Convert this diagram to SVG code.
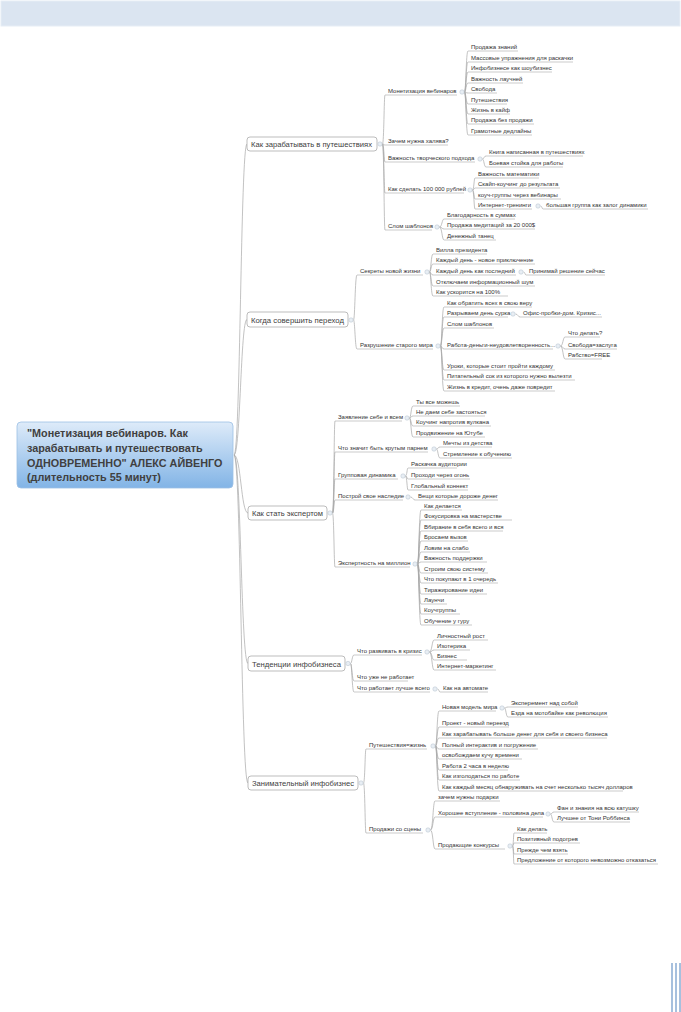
<svg xmlns="http://www.w3.org/2000/svg" width="681" height="1012" viewBox="0 0 681 1012">
<style>
.c{fill:none;stroke:#a8a8a8;stroke-width:0.7}
.ul{fill:none;stroke:#a8a8a8;stroke-width:0.6}
.t{font-family:"Liberation Sans",Arial,sans-serif;font-size:6px;fill:#333}
.b{font-family:"Liberation Sans",Arial,sans-serif;font-size:7.6px;fill:#404040}
.box{fill:#fff;stroke:#a0a0a0;stroke-width:0.7}
.o{fill:#e8eef4;stroke:#b4c0cc;stroke-width:0.5}
.r{font-family:"Liberation Sans",Arial,sans-serif;font-size:10.8px;font-weight:bold;fill:#404040}
</style>
<defs>
<linearGradient id="rg" x1="0" y1="0" x2="0" y2="1">
<stop offset="0" stop-color="#deebf9"/>
<stop offset="1" stop-color="#82b4e6"/>
</linearGradient>
</defs>
<rect x="1" y="1" width="679" height="25" fill="#dbe5f1" stroke="#e6edf5" stroke-width="1"/>
<g id="deco" stroke="#4f81bd" stroke-width="1">
<line x1="672" y1="963" x2="672" y2="1012"/>
<line x1="676" y1="963" x2="676" y2="1012"/>
<line x1="680" y1="963" x2="680" y2="1012"/>
</g>
<g id="connectors" class="c">
<path d="M234 455C240.5 455 240.5 144 247 144M234 455C240.5 455 240.5 319.5 247 319.5M234 455C241 455 241 513 248 513M234 455C241 455 241 663.5 248 663.5M234 455C241 455 241 783 248 783"/>
<path d="M382.5 144C384 144 384 95 385 95M382.5 144C384 144 384 145 385 145M382.5 144C384 144 384 162 385 162M382.5 144C384 144 384 193 385 193M382.5 144C384 144 384 230 385 230"/>
<path d="M464.5 92C466 92 466 51 468 51M464.5 92C466 92 466 62 468 62M464.5 92C466 92 466 72 468 72M464.5 92C466 92 466 83 468 83M464.5 92C466 92 466 93 468 93M464.5 92C466 92 466 104 468 104M464.5 92C466 92 466 114 468 114M464.5 92C466 92 466 124 468 124M464.5 92C466 92 466 135 468 135"/>
<path d="M482.5 159C484 159 484 156 486 156M482.5 159C484 159 484 167 486 167"/>
<path d="M472.5 190C474 190 474 178 475 178M472.5 190C474 190 474 188 475 188M472.5 190C474 190 474 199 475 199M472.5 190C474 190 474 209 475 209M540.5 206C542 206 542 209 543 209"/>
<path d="M439.5 227C442 227 442 219 444 219M439.5 227C442 227 442 229 444 229M439.5 227C442 227 442 240 444 240"/>
<path d="M353.5 320C355 320 355 275 357 275M353.5 320C355 320 355 349 357 349"/>
<path d="M429.5 272C431 272 431 254 433 254M429.5 272C431 272 431 264 433 264M429.5 272C431 272 431 275 433 275M429.5 272C431 272 431 286 433 286M429.5 272C431 272 431 296 433 296M523.5 272C525 272 525 275 526 275"/>
<path d="M440.5 346C442 346 442 307 444 307M440.5 346C442 346 442 317 444 317M440.5 346C442 346 442 328 444 328M440.5 346C442 346 442 349 444 349M440.5 346C442 346 442 370 444 370M440.5 346C442 346 442 380 444 380M440.5 346C442 346 442 391 444 391M515.5 314C518 314 518 317 520 317M560.5 346C563 346 563 337 565 337M560.5 346C563 346 563 349 565 349M560.5 346C563 346 563 359 565 359"/>
<path d="M332.5 513C334 513 334 421 335 421M332.5 513C334 513 334 452 335 452M332.5 513C334 513 334 479 335 479M332.5 513C334 513 334 500 335 500M332.5 513C334 513 334 567 335 567"/>
<path d="M409.5 418C411 418 411 406 413 406M409.5 418C411 418 411 416 413 416M409.5 418C411 418 411 426 413 426M409.5 418C411 418 411 437 413 437M436.5 449C438 449 438 447 440 447M436.5 449C438 449 438 458 440 458M405.5 476C407 476 407 468 408 468M405.5 476C407 476 407 479 408 479M405.5 476C407 476 407 490 408 490M410.5 497C413 497 413 500 415 500"/>
<path d="M417.5 564C419 564 419 510 421 510M417.5 564C419 564 419 520 421 520M417.5 564C419 564 419 531 421 531M417.5 564C419 564 419 541 421 541M417.5 564C419 564 419 552 421 552M417.5 564C419 564 419 562 421 562M417.5 564C419 564 419 573 421 573M417.5 564C419 564 419 583 421 583M417.5 564C419 564 419 594 421 594M417.5 564C419 564 419 604 421 604M417.5 564C419 564 419 614 421 614M417.5 564C419 564 419 625 421 625"/>
<path d="M350.5 663.5C352 663.5 352 655 354 655M350.5 663.5C352 663.5 352 681 354 681M350.5 663.5C352 663.5 352 692 354 692M429.5 652C432 652 432 640 434 640M429.5 652C432 652 432 650 434 650M429.5 652C432 652 432 660 434 660M429.5 652C432 652 432 670 434 670M437.5 689C439 689 439 692 440 692"/>
<path d="M363.5 783C365 783 365 749 366 749M363.5 783C365 783 365 833 366 833"/>
<path d="M435.5 746C437 746 437 711 439 711M435.5 746C437 746 437 727 439 727M435.5 746C437 746 437 738 439 738M435.5 746C437 746 437 749 439 749M435.5 746C437 746 437 759 439 759M435.5 746C437 746 437 770 439 770M435.5 746C437 746 437 780 439 780M435.5 746C437 746 437 791 439 791M504.5 708C506 708 506 707 508 707M504.5 708C506 708 506 717 508 717"/>
<path d="M430.5 830C433 830 433 801 435 801M430.5 830C433 830 433 817 435 817M430.5 830C433 830 433 849 435 849M550.5 814C552 814 552 812 554 812M550.5 814C552 814 552 822 554 822M512.5 846C513.5 846 513.5 833 514 833M512.5 846C513.5 846 513.5 843 514 843M512.5 846C513.5 846 513.5 854 514 854M512.5 846C513.5 846 513.5 864 514 864"/>
</g>
<g id="root">
<rect x="17" y="422" width="216" height="66" rx="4" fill="url(#rg)" stroke="#9dc0e4" stroke-width="0.8"/>
<text class="r" x="27" y="437">"Монетизация вебинаров. Как</text>
<text class="r" x="27" y="452">зарабатывать и путешествовать</text>
<text class="r" x="27" y="467">ОДНОВРЕМЕННО" АЛЕКС АЙВЕНГО</text>
<text class="r" x="27" y="481">(длительность 55 минут)</text>
</g>
<g id="b1"><rect class="box" x="247" y="137" width="130" height="14" rx="3"/><text class="b" x="251" y="147" textLength="121" lengthAdjust="spacingAndGlyphs">Как зарабатывать в путешествиях</text><circle class="o" cx="380" cy="144" r="2.2"/></g>
<g id="b2"><rect class="box" x="247" y="312" width="101" height="15" rx="3"/><text class="b" x="251" y="322.5" textLength="93" lengthAdjust="spacingAndGlyphs">Когда совершить переход</text><circle class="o" cx="351" cy="320" r="2.2"/></g>
<g id="b3"><rect class="box" x="248" y="506" width="79" height="14" rx="3"/><text class="b" x="252" y="516" textLength="71" lengthAdjust="spacingAndGlyphs">Как стать экспертом</text><circle class="o" cx="330" cy="513" r="2.2"/></g>
<g id="b4"><rect class="box" x="248" y="656" width="97" height="15" rx="3"/><text class="b" x="252" y="666.5" textLength="89" lengthAdjust="spacingAndGlyphs">Тенденции инфобизнеса</text><circle class="o" cx="348" cy="663.5" r="2.2"/></g>
<g id="b5"><rect class="box" x="248" y="776" width="110" height="14" rx="3"/><text class="b" x="252" y="786" textLength="102" lengthAdjust="spacingAndGlyphs">Занимательный инфобизнес</text><circle class="o" cx="361" cy="783" r="2.2"/></g>
<g id="m1"><text class="t" x="388" y="93">Монетизация вебинаров</text><path class="ul" d="M385 95H457"/><circle class="o" cx="462" cy="92" r="2.2"/></g>
<g id="m1a"><text class="t" x="471" y="49">Продажа знаний</text><path class="ul" d="M468 51H518"/></g>
<g id="m1b"><text class="t" x="471" y="60">Массовые упражнения для раскачки</text><path class="ul" d="M468 62H573"/></g>
<g id="m1c"><text class="t" x="471" y="70">Инфобизнесе как шоубизнес</text><path class="ul" d="M468 72H552"/></g>
<g id="m1d"><text class="t" x="471" y="81">Важность лаучней</text><path class="ul" d="M468 83H523"/></g>
<g id="m1e"><text class="t" x="471" y="91">Свобода</text><path class="ul" d="M468 93H497"/></g>
<g id="m1f"><text class="t" x="471" y="102">Путешествия</text><path class="ul" d="M468 104H507"/></g>
<g id="m1g"><text class="t" x="471" y="112">Жизнь в кайф</text><path class="ul" d="M468 114H510"/></g>
<g id="m1h"><text class="t" x="471" y="122">Продажа без продажи</text><path class="ul" d="M468 124H534"/></g>
<g id="m1i"><text class="t" x="471" y="133">Грамотные дедлайны</text><path class="ul" d="M468 135H532"/></g>
<g id="m2"><text class="t" x="388" y="143">Зачем нужна халява?</text><path class="ul" d="M385 145H448"/></g>
<g id="m3"><text class="t" x="388" y="160">Важность творческого подхода</text><path class="ul" d="M385 162H475"/><circle class="o" cx="480" cy="159" r="2.2"/></g>
<g id="m3a"><text class="t" x="489" y="154">Книга написанная в путешествиях</text><path class="ul" d="M486 156H583"/></g>
<g id="m3b"><text class="t" x="489" y="165">Боевая стойка для работы</text><path class="ul" d="M486 167H563"/></g>
<g id="m4"><text class="t" x="388" y="191">Как сделать 100 000 рублей</text><path class="ul" d="M385 193H464"/><circle class="o" cx="470" cy="190" r="2.2"/></g>
<g id="m4a"><text class="t" x="478" y="176">Важность математики</text><path class="ul" d="M475 178H539"/></g>
<g id="m4b"><text class="t" x="478" y="186">Скайп-коучинг до результата</text><path class="ul" d="M475 188H560"/></g>
<g id="m4c"><text class="t" x="478" y="197">коуч-группы через вебинары</text><path class="ul" d="M475 199H561"/></g>
<g id="m4d"><text class="t" x="478" y="207">Интернет-тренинги</text><path class="ul" d="M475 209H532"/><circle class="o" cx="538" cy="206" r="2.2"/></g>
<g id="m4d1"><text class="t" x="546" y="207">большая группа как залог динамики</text><path class="ul" d="M543 209H648"/></g>
<g id="m5"><text class="t" x="388" y="228">Слом шаблонов</text><path class="ul" d="M385 230H432"/><circle class="o" cx="437" cy="227" r="2.2"/></g>
<g id="m5a"><text class="t" x="447" y="217">Благодарность в суммах</text><path class="ul" d="M444 219H515"/></g>
<g id="m5b"><text class="t" x="447" y="227">Продажа медитаций за 20 000$</text><path class="ul" d="M444 229H535"/></g>
<g id="m5c"><text class="t" x="447" y="238">Денежный танец</text><path class="ul" d="M444 240H496"/></g>
<g id="s1"><text class="t" x="360" y="273">Секреты новой жизни</text><path class="ul" d="M357 275H423"/><circle class="o" cx="427" cy="272" r="2.2"/></g>
<g id="s1a"><text class="t" x="436" y="252">Вилла президента</text><path class="ul" d="M433 254H487"/></g>
<g id="s1b"><text class="t" x="436" y="262">Каждый день - новое приключение</text><path class="ul" d="M433 264H535"/></g>
<g id="s1c"><text class="t" x="436" y="273">Каждый день как последний</text><path class="ul" d="M433 275H516"/><circle class="o" cx="521" cy="272" r="2.2"/></g>
<g id="s1c1"><text class="t" x="529" y="273">Принимай решение сейчас</text><path class="ul" d="M526 275H605"/></g>
<g id="s1d"><text class="t" x="436" y="284">Отключаем информационный шум</text><path class="ul" d="M433 286H535"/></g>
<g id="s1e"><text class="t" x="436" y="294">Как ускорится на 100%</text><path class="ul" d="M433 296H508"/></g>
<g id="s2"><text class="t" x="360" y="347">Разрушение старого мира</text><path class="ul" d="M357 349H433"/><circle class="o" cx="438" cy="346" r="2.2"/></g>
<g id="s2a"><text class="t" x="447" y="305">Как обратить всех в свою веру</text><path class="ul" d="M444 307H532"/></g>
<g id="s2b"><text class="t" x="447" y="315">Разрываем день сурка</text><path class="ul" d="M444 317H508"/><circle class="o" cx="513" cy="314" r="2.2"/></g>
<g id="s2b1"><text class="t" x="523" y="315">Офис-пробки-дом. Кризис...</text><path class="ul" d="M520 317H602"/></g>
<g id="s2c"><text class="t" x="447" y="326">Слом шаблонов</text><path class="ul" d="M444 328H494"/></g>
<g id="s2d"><text class="t" x="447" y="347">Работа-деньги-неудовлетворенность...</text><path class="ul" d="M444 349H553"/><circle class="o" cx="558" cy="346" r="2.2"/></g>
<g id="s2d1"><text class="t" x="568" y="335">Что делать?</text><path class="ul" d="M565 337H600"/></g>
<g id="s2d2"><text class="t" x="568" y="347">Свобода=заслуга</text><path class="ul" d="M565 349H617"/></g>
<g id="s2d3"><text class="t" x="568" y="357">Рабство=FREE</text><path class="ul" d="M565 359H602"/></g>
<g id="s2e"><text class="t" x="447" y="368">Уроки, которые стоит пройти каждому</text><path class="ul" d="M444 370H555"/></g>
<g id="s2f"><text class="t" x="447" y="378">Питательный сок из которого нужно вылезти</text><path class="ul" d="M444 380H575"/></g>
<g id="s2g"><text class="t" x="447" y="389">Жизнь в кредит, очень даже повредит</text><path class="ul" d="M444 391H555"/></g>
<g id="e1"><text class="t" x="338" y="419">Заявление себе и всем</text><path class="ul" d="M335 421H402"/><circle class="o" cx="407" cy="418" r="2.2"/></g>
<g id="e1a"><text class="t" x="416" y="404">Ты все можешь</text><path class="ul" d="M413 406H460"/></g>
<g id="e1b"><text class="t" x="416" y="414">Не даем себе застояться</text><path class="ul" d="M413 416H485"/></g>
<g id="e1c"><text class="t" x="416" y="424">Коучинг напротив вулкана</text><path class="ul" d="M413 426H491"/></g>
<g id="e1d"><text class="t" x="416" y="435">Продвижение на Ютубе</text><path class="ul" d="M413 437H485"/></g>
<g id="e2"><text class="t" x="338" y="450">Что значит быть крутым парнем</text><path class="ul" d="M335 452H428"/><circle class="o" cx="434" cy="449" r="2.2"/></g>
<g id="e2a"><text class="t" x="443" y="445">Мечты из детства</text><path class="ul" d="M440 447H492"/></g>
<g id="e2b"><text class="t" x="443" y="456">Стремление к обучению</text><path class="ul" d="M440 458H512"/></g>
<g id="e3"><text class="t" x="338" y="477">Групповая динамика</text><path class="ul" d="M335 479H398"/><circle class="o" cx="403" cy="476" r="2.2"/></g>
<g id="e3a"><text class="t" x="411" y="466">Раскачка аудитории</text><path class="ul" d="M408 468H457"/></g>
<g id="e3b"><text class="t" x="411" y="477">Проходи через огонь</text><path class="ul" d="M408 479H470"/></g>
<g id="e3c"><text class="t" x="411" y="488">Глобальный коннект</text><path class="ul" d="M408 490H468"/></g>
<g id="e4"><text class="t" x="338" y="498">Построй свое наследие</text><path class="ul" d="M335 500H403"/><circle class="o" cx="408" cy="497" r="2.2"/></g>
<g id="e4a"><text class="t" x="418" y="498">Вещи которые дороже денег</text><path class="ul" d="M415 500H498"/></g>
<g id="e5"><text class="t" x="338" y="565">Экспертность на миллион</text><path class="ul" d="M335 567H410"/><circle class="o" cx="415" cy="564" r="2.2"/></g>
<g id="e5a"><text class="t" x="424" y="508">Как делается</text><path class="ul" d="M421 510H462"/></g>
<g id="e5b"><text class="t" x="424" y="518">Фокусировка на мастерстве</text><path class="ul" d="M421 520H512"/></g>
<g id="e5c"><text class="t" x="424" y="529">Вбирание в себя всего и вся</text><path class="ul" d="M421 531H503"/></g>
<g id="e5d"><text class="t" x="424" y="539">Бросаем вызов</text><path class="ul" d="M421 541H468"/></g>
<g id="e5e"><text class="t" x="424" y="550">Ловим на слабо</text><path class="ul" d="M421 552H470"/></g>
<g id="e5f"><text class="t" x="424" y="560">Важность поддержки</text><path class="ul" d="M421 562H487"/></g>
<g id="e5g"><text class="t" x="424" y="571">Строим свою систему</text><path class="ul" d="M421 573H488"/></g>
<g id="e5h"><text class="t" x="424" y="581">Что покупают в 1 очередь</text><path class="ul" d="M421 583H498"/></g>
<g id="e5i"><text class="t" x="424" y="592">Тиражирование идеи</text><path class="ul" d="M421 594H487"/></g>
<g id="e5j"><text class="t" x="424" y="602">Лаунчи</text><path class="ul" d="M421 604H447"/></g>
<g id="e5k"><text class="t" x="424" y="612">Коучгруппы</text><path class="ul" d="M421 614H460"/></g>
<g id="e5l"><text class="t" x="424" y="623">Обучение у гуру</text><path class="ul" d="M421 625H472"/></g>
<g id="t1"><text class="t" x="357" y="653">Что развивать в кризис</text><path class="ul" d="M354 655H422"/><circle class="o" cx="427" cy="652" r="2.2"/></g>
<g id="t1a"><text class="t" x="437" y="638">Личностный рост</text><path class="ul" d="M434 640H488"/></g>
<g id="t1b"><text class="t" x="437" y="648">Изотерика</text><path class="ul" d="M434 650H470"/></g>
<g id="t1c"><text class="t" x="437" y="658">Бизнес</text><path class="ul" d="M434 660H467"/></g>
<g id="t1d"><text class="t" x="437" y="668">Интернет-маркетинг</text><path class="ul" d="M434 670H496"/></g>
<g id="t2"><text class="t" x="357" y="679">Что уже не работает</text><path class="ul" d="M354 681H408"/></g>
<g id="t3"><text class="t" x="357" y="690">Что работает лучше всего</text><path class="ul" d="M354 692H430"/><circle class="o" cx="435" cy="689" r="2.2"/></g>
<g id="t3a"><text class="t" x="443" y="690">Как на автомате</text><path class="ul" d="M440 692H488"/></g>
<g id="z1"><text class="t" x="369" y="747">Путешествия=жизнь</text><path class="ul" d="M366 749H427"/><circle class="o" cx="433" cy="746" r="2.2"/></g>
<g id="z1a"><text class="t" x="442" y="709">Новая модель мира</text><path class="ul" d="M439 711H496"/><circle class="o" cx="502" cy="708" r="2.2"/></g>
<g id="z1a1"><text class="t" x="511" y="705">Эксперемент над собой</text><path class="ul" d="M508 707H578"/></g>
<g id="z1a2"><text class="t" x="511" y="715">Езда на мотобайке как революция</text><path class="ul" d="M508 717H608"/></g>
<g id="z1b"><text class="t" x="442" y="725">Проект - новый переезд</text><path class="ul" d="M439 727H509"/></g>
<g id="z1c"><text class="t" x="442" y="736">Как зарабатывать больше денег для себя и своего бизнеса</text><path class="ul" d="M439 738H607"/></g>
<g id="z1d"><text class="t" x="442" y="747">Полный интерактив и погружение</text><path class="ul" d="M439 749H538"/></g>
<g id="z1e"><text class="t" x="442" y="757">освобождаем кучу времени</text><path class="ul" d="M439 759H522"/></g>
<g id="z1f"><text class="t" x="442" y="768">Работа 2 часа в неделю</text><path class="ul" d="M439 770H508"/></g>
<g id="z1g"><text class="t" x="442" y="778">Как изголодаться по работе</text><path class="ul" d="M439 780H520"/></g>
<g id="z1h"><text class="t" x="442" y="789">Как каждый месяц обнаруживать на счет несколько тысяч долларов</text><path class="ul" d="M439 791H623"/></g>
<g id="z2"><text class="t" x="369" y="831">Продажи со сцены</text><path class="ul" d="M366 833H423"/><circle class="o" cx="428" cy="830" r="2.2"/></g>
<g id="z2a"><text class="t" x="438" y="799">зачем нужны подарки</text><path class="ul" d="M435 801H500"/></g>
<g id="z2b"><text class="t" x="438" y="815">Хорошее вступление - половина дела</text><path class="ul" d="M435 817H543"/><circle class="o" cx="548" cy="814" r="2.2"/></g>
<g id="z2b1"><text class="t" x="557" y="810">Фан и знания на всю катушку</text><path class="ul" d="M554 812H639"/></g>
<g id="z2b2"><text class="t" x="557" y="820">Лучшее от Тони Роббинса</text><path class="ul" d="M554 822H630"/></g>
<g id="z2c"><text class="t" x="438" y="847">Продающие конкурсы</text><path class="ul" d="M435 849H505"/><circle class="o" cx="510" cy="846" r="2.2"/></g>
<g id="z2c1"><text class="t" x="517" y="831">Как делать</text><path class="ul" d="M514 833H547"/></g>
<g id="z2c2"><text class="t" x="517" y="841">Позитивный подогрев</text><path class="ul" d="M514 843H580"/></g>
<g id="z2c3"><text class="t" x="517" y="852">Прежде чем взять</text><path class="ul" d="M514 854H568"/></g>
<g id="z2c4"><text class="t" x="517" y="862">Предложение от которого невозможно отказаться</text><path class="ul" d="M514 864H658"/></g>
</svg>
